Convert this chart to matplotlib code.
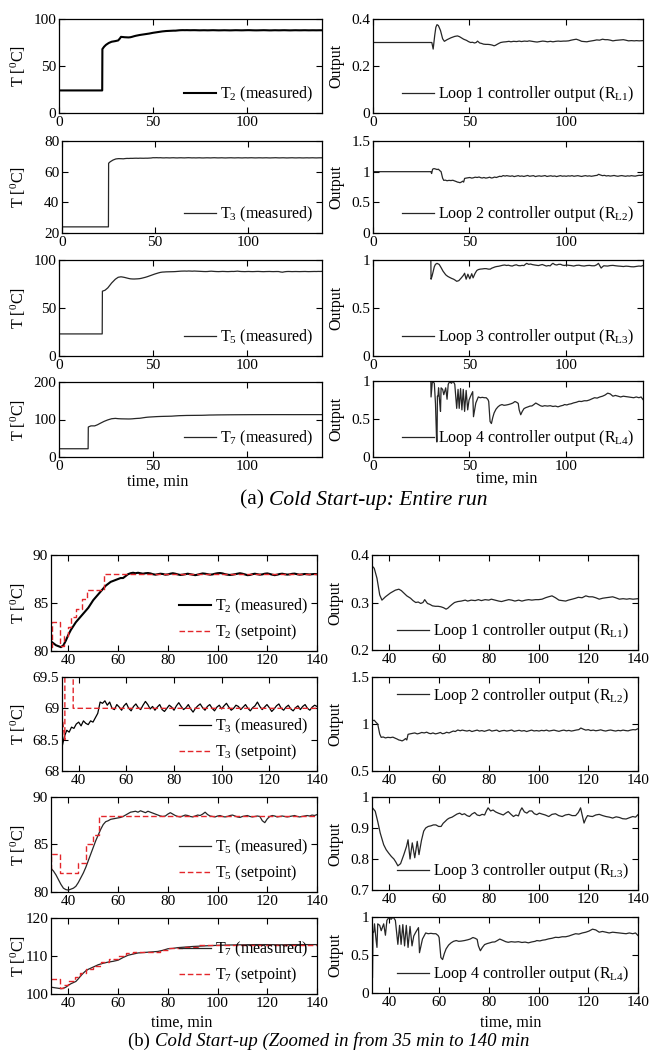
import numpy as np
import matplotlib
matplotlib.use('Agg')
import matplotlib.pyplot as plt
import matplotlib.transforms as mtransforms
from matplotlib.ticker import FormatStrFormatter

plt.rcParams['font.family'] = 'Liberation Serif'
plt.rcParams['mathtext.fontset'] = 'custom'
plt.rcParams['mathtext.rm'] = 'Liberation Serif'
plt.rcParams['mathtext.it'] = 'Liberation Serif:italic'
plt.rcParams['mathtext.bf'] = 'Liberation Serif:bold'

W, H = 649, 1056

# ---- measured temperatures (time in min) ----
t2_head_t = [0, 23.0, 23.1, 24, 25, 26.5, 28, 30, 31.5, 32.5, 33, 34, 35, 36, 37, 38, 39, 40, 41, 42,
             43, 44, 45, 46, 47, 48, 49, 50, 51, 52, 53, 54, 55, 56, 57, 58, 59, 60, 61, 62,
             63, 64, 65, 66]
t2_head_v = [24, 24, 68, 70.5, 72.5, 74.5, 75.8, 76.5, 77.2, 79.5, 81.0, 80.8, 80.6, 80.5, 80.4, 80.6, 81.1, 81.7, 82.2, 82.6,
             83.0, 83.3, 83.6, 83.9, 84.2, 84.5, 84.9, 85.3, 85.6, 85.9, 86.2, 86.5, 86.8, 87.0, 87.2, 87.3, 87.4, 87.5, 87.6, 87.6,
             87.8, 88.0, 88.1, 88.15]
t2_tail_v = [88.10, 88.15, 88.10, 88.05, 88.10, 88.12, 88.08, 88.00, 87.95, 88.00,
             88.05, 88.02, 87.95, 87.98, 88.05, 88.10, 88.05, 87.98, 87.92, 87.95,
             88.00, 88.05, 88.00, 87.95, 87.90, 87.95, 88.02, 88.08, 88.05, 88.00,
             87.95, 87.98, 88.05, 88.10, 88.12, 88.08, 88.00, 87.95, 87.92, 87.95,
             88.00, 88.05, 88.10, 88.05, 87.98, 87.90, 87.92, 88.00, 88.05, 88.00,
             87.95, 87.98, 88.05, 88.08, 88.02, 87.95, 87.90, 87.95, 88.02, 88.05,
             88.00, 87.96, 87.98, 88.04, 88.06, 88.00, 87.95, 87.98, 88.02, 88.00,
             87.97, 88.00, 88.02, 88.00]

t3_head_t = [0, 25.0, 25.1, 26, 27.5, 29, 30.5, 32, 33, 34, 35, 36, 37, 38, 39, 40, 41, 42, 43, 44,
             45, 46, 47, 48, 49]
t3_head_v = [24, 24, 65.5, 66.5, 67.6, 68.3, 68.5, 68.45, 68.38, 68.55, 68.65, 68.62, 68.70, 68.68, 68.75, 68.78, 68.72, 68.80, 68.76, 68.74,
             68.80, 68.78, 68.85, 68.92, 69.10]
t3_tail_v = [69.08, 69.12, 69.05, 69.10, 69.00, 68.98, 69.06, 69.02, 68.97, 69.04,
             69.08, 69.00, 68.96, 69.03, 69.07, 69.01, 68.98, 69.05, 69.11, 69.06,
             68.99, 69.03, 68.97, 69.02, 69.06, 68.98, 68.95, 69.00, 69.05, 69.02,
             68.97, 69.04, 69.09, 69.03, 68.98, 69.01, 69.06, 68.99, 68.94, 69.00,
             69.04, 69.07, 69.01, 68.97, 69.03, 69.06, 69.00, 68.96, 69.02, 69.05,
             68.99, 69.04, 69.08, 69.02, 68.97, 69.00, 69.05, 69.03, 68.98, 69.02,
             69.06, 69.00, 68.96, 69.01, 69.04, 69.10, 69.03, 68.98, 69.02, 69.06,
             69.01, 68.95, 68.99, 69.04, 69.07, 69.00, 68.97, 69.02, 69.05, 68.99,
             68.96, 69.01, 69.04, 68.98, 69.03, 69.06, 69.00, 68.97, 69.02, 69.05,
             69.03]

t5_head_t = [0, 23.0, 23.1, 24.5, 26, 28, 30, 31.5, 33, 34, 35, 36, 37, 38, 39, 40, 41, 42, 43, 44,
             45, 46, 47, 48, 49, 50, 51, 52, 53, 54, 55, 56, 57, 58, 59, 60, 61, 62, 63, 64, 65]
t5_head_v = [23, 23, 67.5, 68.5, 71, 76, 80, 82, 82.5, 82.2, 81.8, 81.3, 80.8, 80.4, 80.25, 80.2, 80.3, 80.4, 80.6, 81.0,
             81.5, 82.0, 82.6, 83.3, 84.0, 84.7, 85.4, 86.0, 86.6, 87.1, 87.4, 87.5, 87.65, 87.7, 87.75, 87.8, 87.85, 87.95, 88.1, 88.25, 88.4]
t5_tail_v = [88.45, 88.50, 88.40, 88.55, 88.45, 88.35, 88.50, 88.40, 88.30, 88.20,
             88.10, 88.00, 87.95, 88.00, 88.20, 88.35, 88.20, 88.05, 87.95, 87.90,
             88.00, 88.10, 88.05, 87.95, 87.90, 88.00, 88.10, 88.05, 88.20, 88.40,
             88.15, 88.00, 87.95, 87.90, 88.00, 88.05, 87.95, 87.90, 87.95, 88.05,
             88.10, 88.00, 87.90, 87.85, 87.95, 88.00, 88.05, 87.95, 87.90, 87.95,
             88.00, 87.95, 87.50, 87.30, 87.70, 87.95, 88.05, 88.00, 87.90, 87.95,
             88.00, 87.95, 87.90, 87.95, 88.00, 88.05, 87.95, 87.90, 87.95, 88.00,
             88.05, 88.00, 88.10, 88.05, 88.15]

t7_t = [0, 15.5, 15.6, 17, 19, 20.5, 22, 24, 26, 28, 30, 31.5, 33, 34, 35, 36, 37, 38, 39, 40,
        41, 42, 43, 44, 45, 46, 47, 48, 49, 50, 52, 54, 56, 58, 60, 62, 64, 66, 68, 70,
        72, 74, 76, 78, 80, 82, 84, 86, 88, 90, 93, 96, 100, 105, 110, 115, 120, 125, 130, 135, 140]
t7_v = [22, 22, 80, 83, 83, 86, 90, 95, 99, 102, 103, 102.2, 101.8, 101.7, 101.6, 101.5, 101.4, 101.5, 101.8, 102.3,
        102.7, 103.0, 103.3, 104.0, 104.8, 105.5, 106.1, 106.5, 106.8, 107.1, 107.7, 108.1, 108.4, 108.6, 108.9, 109.6, 110.2, 110.5, 110.8, 110.9,
        111.0, 111.1, 111.2, 111.5, 111.9, 112.0, 112.2, 112.3, 112.4, 112.5, 112.6, 112.7, 112.8, 112.9, 112.95, 113.0, 113.0, 112.95, 113.0, 113.0, 113.0]

# ---- setpoints (step changes) ----
sp2_t = [33, 33.5, 36.8, 38.2, 39.8, 41.2, 43.2, 45.3, 47.5, 54.3, 140]
sp2_v = [80.4, 83.0, 80.5, 81.6, 82.5, 83.5, 84.4, 85.4, 86.4, 88.0, 88.0]
sp3_t = [32.5, 34.2, 34.2, 37.7, 37.7, 140]
sp3_v = [69.05, 68.5, 70.5, 70.5, 69.0, 69.0]
sp5_t = [33, 33.2, 36.5, 44, 47, 50, 52.5, 140]
sp5_v = [82.3, 84, 82, 83, 85, 86, 88, 88]
sp7_t = [33, 36.5, 38, 40, 42.5, 44.5, 47, 50, 53, 56.5, 60, 63, 66, 77, 80, 86, 92, 140]
sp7_v = [104, 101.5, 102.5, 103.5, 104.5, 105.5, 106.5, 107.5, 108.5, 109.3, 110.1, 110.7, 111, 111.5, 112, 112.5, 113, 113]

# ---- controller outputs ----
rl1_t = [0, 30.5, 31.2, 32.0, 32.6, 33.2, 33.9, 35.0, 36.1, 37.0, 38.4, 39.4, 40.4, 41.4, 42.4, 43.8, 44.8, 45.8, 47.0, 48.5,
         49.5, 50.6, 51.6, 52.6, 53.5, 54.2, 55.3, 56.3, 57.3, 58.5, 59.6, 60.7, 61.8, 62.8, 63.5, 64.1, 65.2, 66.2, 67.5, 68.9,
         70.5, 71.5, 72.9, 74.5, 75.8, 77.0, 78.5, 80.0, 81.0, 82.5, 84.0, 85.1, 86.5, 88.0, 89.2, 90.5, 92.0, 93.3, 94.8, 96.0,
         97.3, 98.8, 100.0, 101.4, 102.8, 104.0, 105.4, 106.8, 108.2, 109.5, 110.9, 112.0, 113.5, 114.9, 116.0, 117.5, 119.0, 120.3, 121.7, 123.0,
         124.4, 125.8, 127.1, 128.5, 129.8, 131.0, 132.5, 134.0, 135.5, 136.6, 138.0, 140.0]
rl1_v = [0.300, 0.300, 0.272, 0.330, 0.365, 0.376, 0.372, 0.351, 0.316, 0.305, 0.312, 0.316, 0.320, 0.323, 0.326, 0.328, 0.325, 0.320, 0.314, 0.309,
         0.304, 0.300, 0.301, 0.298, 0.300, 0.306, 0.298, 0.296, 0.293, 0.292, 0.292, 0.291, 0.289, 0.286, 0.288, 0.291, 0.296, 0.300, 0.302, 0.303,
         0.305, 0.303, 0.305, 0.304, 0.306, 0.304, 0.306, 0.305, 0.307, 0.305, 0.303, 0.302, 0.304, 0.306, 0.305, 0.303, 0.305, 0.303, 0.305, 0.306,
         0.305, 0.306, 0.306, 0.307, 0.310, 0.312, 0.314, 0.310, 0.305, 0.304, 0.303, 0.305, 0.307, 0.309, 0.311, 0.310, 0.314, 0.312, 0.312, 0.310,
         0.307, 0.309, 0.310, 0.311, 0.312, 0.310, 0.307, 0.308, 0.307, 0.308, 0.307, 0.308]

rl2_t = [0, 30.0, 30.4, 30.9, 31.6, 32.3, 33.2, 33.9, 34.6, 35.3, 36.1, 36.7, 37.5, 38.4, 39.4, 40.4, 41.4, 42.4, 43.1, 43.8,
         44.5, 45.1, 45.8, 46.5, 47.0, 47.5, 48.3, 49.2, 50.2, 51.2, 52.0, 53.0, 54.0, 55.0, 56.0, 56.7, 57.5, 58.5, 59.4, 60.5,
         61.3, 62.1, 63.0, 64.0, 64.8, 65.7, 66.5, 67.5, 68.5, 69.3, 70.2, 71.2, 72.2, 73.2, 74.3, 75.3, 76.2, 77.2, 78.2, 79.2,
         80.2, 81.2, 82.2, 83.2, 84.2, 85.2, 86.2, 87.2, 88.2, 89.2, 90.2, 91.2, 92.2, 93.2, 94.2, 95.2, 96.2, 97.2, 98.2, 99.2,
         100.2, 101.2, 102.2, 103.2, 104.2, 105.2, 106.2, 107.2, 108.2, 109.2, 110.2, 111.2, 112.2, 113.2, 114.2, 115.2, 116.2, 117.0, 118.0, 119.0,
         120.0, 121.0, 122.0, 123.0, 124.0, 125.0, 126.0, 127.0, 128.0, 129.0, 130.0, 131.0, 132.0, 133.0, 134.0, 135.0, 136.0, 137.0, 138.0, 139.0,
         140.0]
rl2_v = [1.0, 1.0, 0.97, 1.04, 1.05, 1.045, 1.035, 1.04, 1.018, 1.0, 0.894, 0.858, 0.862, 0.852, 0.858, 0.855, 0.860, 0.848, 0.840, 0.830,
         0.826, 0.820, 0.830, 0.845, 0.830, 0.890, 0.895, 0.900, 0.905, 0.895, 0.900, 0.910, 0.905, 0.913, 0.900, 0.897, 0.905, 0.895, 0.900, 0.910,
         0.897, 0.900, 0.912, 0.905, 0.915, 0.925, 0.920, 0.936, 0.928, 0.935, 0.930, 0.925, 0.932, 0.920, 0.928, 0.935, 0.925, 0.930, 0.922, 0.930,
         0.938, 0.925, 0.930, 0.935, 0.920, 0.928, 0.932, 0.925, 0.930, 0.936, 0.922, 0.928, 0.933, 0.925, 0.930, 0.920, 0.928, 0.935, 0.926, 0.930,
         0.925, 0.932, 0.928, 0.935, 0.925, 0.930, 0.935, 0.928, 0.922, 0.930, 0.935, 0.927, 0.932, 0.925, 0.930, 0.936, 0.940, 0.957, 0.945, 0.935,
         0.940, 0.930, 0.935, 0.928, 0.932, 0.938, 0.930, 0.925, 0.932, 0.936, 0.930, 0.925, 0.932, 0.928, 0.935, 0.930, 0.927, 0.935, 0.940, 0.938,
         0.950]

rl3_t = [0, 30.0, 30.1, 30.6, 31.2, 31.8, 32.4, 33.2, 34.3, 35.3, 36.3, 37.7, 38.7, 39.7, 40.8, 41.8, 42.6, 43.4, 44.5, 45.8,
         46.9, 47.5, 48.3, 49.2, 50.2, 51.2, 51.9, 52.9, 53.8, 54.6, 55.6, 56.7, 57.7, 58.7, 59.8, 60.8, 61.6, 62.4, 63.3, 64.1,
         65.2, 66.2, 67.2, 68.3, 69.2, 70.2, 71.2, 72.2, 73.2, 74.3, 75.3, 76.3, 77.3, 78.3, 79.0, 79.7, 80.7, 81.7, 82.7, 83.8,
         84.8, 85.8, 86.8, 87.8, 88.8, 89.9, 90.9, 91.9, 92.6, 93.3, 94.3, 95.3, 96.3, 97.3, 98.3, 99.3, 100.3, 101.4, 102.7, 104.1,
         105.4, 106.8, 108.1, 109.5, 110.8, 112.2, 113.5, 114.9, 116.0, 116.9, 117.6, 118.3, 119.0, 119.7, 120.7, 121.7, 123.0, 124.4, 125.8, 127.1,
         128.5, 129.8, 131.2, 132.5, 133.8, 135.2, 136.5, 137.9, 139.0, 140.0]
rl3_v = [1.0, 1.0, 0.80, 0.83, 0.88, 0.93, 0.955, 0.965, 0.954, 0.921, 0.884, 0.846, 0.830, 0.819, 0.808, 0.800, 0.790, 0.778, 0.785, 0.814,
         0.841, 0.862, 0.800, 0.852, 0.804, 0.857, 0.814, 0.860, 0.890, 0.900, 0.905, 0.907, 0.910, 0.910, 0.905, 0.905, 0.915, 0.921, 0.928, 0.932,
         0.935, 0.940, 0.945, 0.948, 0.943, 0.946, 0.940, 0.937, 0.945, 0.950, 0.942, 0.940, 0.944, 0.942, 0.955, 0.965, 0.955, 0.958, 0.952, 0.948,
         0.945, 0.942, 0.948, 0.953, 0.945, 0.937, 0.942, 0.939, 0.955, 0.965, 0.952, 0.948, 0.955, 0.955, 0.946, 0.943, 0.948, 0.945, 0.942, 0.937,
         0.944, 0.946, 0.940, 0.937, 0.942, 0.944, 0.940, 0.940, 0.950, 0.965, 0.940, 0.916, 0.930, 0.940, 0.938, 0.937, 0.942, 0.944, 0.940, 0.937,
         0.935, 0.932, 0.936, 0.934, 0.930, 0.929, 0.933, 0.937, 0.935, 0.943]

rl4_t = [0, 30.0, 30.1, 30.8, 31.8, 32.4, 33.0, 33.2, 33.4, 33.7, 34.0, 34.6, 35.0, 35.3, 36.1, 36.7, 37.7, 38.4, 39.0, 39.7,
         40.7, 41.5, 42.4, 43.4, 44.1, 44.7, 45.4, 46.1, 46.8, 47.5, 48.3, 49.1, 49.8, 50.6, 51.7, 52.1, 53.3, 54.6, 55.6, 56.7,
         57.7, 58.7, 59.6, 60.0, 60.7, 61.4, 62.1, 62.8, 63.8, 64.8, 65.8, 66.9, 67.9, 68.9, 70.2, 71.5, 72.5, 73.6, 74.5, 75.3,
         75.8, 76.6, 77.4, 78.3, 79.3, 80.4, 81.4, 82.4, 83.4, 84.4, 85.1, 85.8, 86.8, 87.8, 89.0, 90.5, 91.9, 93.3, 94.6, 95.9,
         97.3, 98.6, 99.3, 100.5, 101.6, 102.7, 104.0, 105.4, 106.8, 108.1, 109.5, 110.9, 112.2, 113.5, 114.9, 116.2, 117.6, 119.0, 120.3, 121.7,
         123.0, 124.4, 125.7, 127.1, 128.4, 129.8, 131.1, 132.5, 133.8, 135.2, 136.5, 137.9, 139.0, 140.0]
rl4_v = [1.0, 1.0, 0.79, 1.0, 0.97, 0.70, 0.20, 0.20, 0.80, 0.80, 0.91, 0.71, 0.60, 0.91, 0.89, 0.82, 0.91, 0.76, 0.956, 0.99,
         0.97, 1.0, 0.956, 0.64, 0.89, 0.64, 0.90, 0.62, 0.89, 0.60, 0.876, 0.62, 0.75, 0.80, 0.86, 0.53, 0.71, 0.79, 0.78, 0.785,
         0.78, 0.78, 0.756, 0.73, 0.467, 0.44, 0.52, 0.58, 0.63, 0.66, 0.68, 0.69, 0.68, 0.683, 0.69, 0.70, 0.71, 0.73, 0.72, 0.705,
         0.62, 0.556, 0.60, 0.637, 0.65, 0.66, 0.67, 0.672, 0.69, 0.71, 0.70, 0.69, 0.675, 0.667, 0.675, 0.67, 0.675, 0.665, 0.67, 0.66,
         0.672, 0.68, 0.69, 0.685, 0.695, 0.70, 0.712, 0.72, 0.733, 0.73, 0.74, 0.74, 0.75, 0.765, 0.78, 0.775, 0.79, 0.80, 0.815, 0.84,
         0.83, 0.80, 0.81, 0.80, 0.79, 0.80, 0.795, 0.79, 0.785, 0.78, 0.79, 0.78, 0.79, 0.756]

# minute-by-minute samples after the heads
t2_t = t2_head_t + list(67 + np.arange(len(t2_tail_v)))
t2_v = t2_head_v + t2_tail_v
t3_t = t3_head_t + list(50 + np.arange(len(t3_tail_v)))
t3_v = t3_head_v + t3_tail_v
t5_t = t5_head_t + list(66 + np.arange(len(t5_tail_v)))
t5_v = t5_head_v + t5_tail_v

DARK = '#262626'
RED = '#e3262b'
SP_DASH = (0, (4.0, 2.0))
LEG_FS = 11.5

fig = plt.figure(figsize=(W / 100, H / 100), dpi=100)


def box(x0, x1, y0, y1):
    return [x0 / W, 1 - y1 / H, (x1 - x0) / W, (y1 - y0) / H]


def style(ax, xlim, xticks, ylim, yticks, ylab, ylab_x):
    ax.set_xlim(*xlim)
    ax.set_ylim(*ylim)
    ax.set_xticks(xticks)
    ax.set_yticks(yticks)
    ax.yaxis.set_major_formatter(FormatStrFormatter('%g'))
    ax.tick_params(direction='in', top=True, right=True, length=4, width=0.8,
                   labelsize=11, colors='black')
    ax.tick_params(axis='y', pad=2)
    ax.tick_params(axis='x', pad=2.5)
    for s in ax.spines.values():
        s.set_linewidth(0.9)
    ax.set_ylabel(ylab, fontsize=11.5)
    tr = mtransforms.blended_transform_factory(fig.transFigure, ax.transAxes)
    ax.yaxis.set_label_coords(ylab_x / W, 0.5, transform=tr)


def xlabel(ax, x_px, y_px):
    ax.set_xlabel('time, min', fontsize=11.5)
    ax.xaxis.set_label_coords(x_px / W, 1 - y_px / H, transform=fig.transFigure)
    ax.xaxis.label.set_va('top')


def legend(ax, loc='lower right'):
    ax.legend(loc=loc, frameon=False, fontsize=LEG_FS, handlelength=2.0,
              handletextpad=0.25, borderaxespad=0.15, labelspacing=0.38)


TLAB = 'T [$^0$C]'
XA = (0, 140)
XA_T = [0, 50, 100]
XB = (33, 140)
XB_T = [40, 60, 80, 100, 120, 140]

# ---------------- (a) entire run ----------------
ax = fig.add_axes(box(59, 322, 19, 113))
ax.plot(t2_t, t2_v, color='black', lw=1.5, label='T$_2$ (measured)')
style(ax, XA, XA_T, (0, 100), [0, 50, 100], TLAB, 28)
legend(ax)

ax = fig.add_axes(box(62, 322, 141, 233))
ax.plot(t3_t, t3_v, color=DARK, lw=0.9, label='T$_3$ (measured)')
style(ax, XA, XA_T, (20, 80), [20, 40, 60, 80], TLAB, 28)
legend(ax)

ax = fig.add_axes(box(59, 322, 260, 356))
ax.plot(t5_t, t5_v, color=DARK, lw=0.9, label='T$_5$ (measured)')
style(ax, XA, XA_T, (0, 100), [0, 50, 100], TLAB, 28)
legend(ax)

ax = fig.add_axes(box(59, 322, 382, 457))
ax.plot(t7_t, t7_v, color=DARK, lw=0.9, label='T$_7$ (measured)')
style(ax, XA, XA_T, (0, 200), [0, 100, 200], TLAB, 28)
legend(ax)
xlabel(ax, 158, 474)

ax = fig.add_axes(box(373, 643, 19, 113))
ax.plot(rl1_t, rl1_v, color=DARK, lw=0.9, label='Loop 1 controller output (R$_{\\rm L1}$)')
style(ax, XA, XA_T, (0, 0.4), [0, 0.2, 0.4], 'Output', 344)
legend(ax)

ax = fig.add_axes(box(373, 643, 141, 233))
ax.plot(rl2_t, rl2_v, color=DARK, lw=0.9, label='Loop 2 controller output (R$_{\\rm L2}$)')
style(ax, XA, XA_T, (0, 1.5), [0, 0.5, 1, 1.5], 'Output', 344)
legend(ax)

ax = fig.add_axes(box(373, 643, 260, 356))
ax.plot(rl3_t, rl3_v, color=DARK, lw=0.9, label='Loop 3 controller output (R$_{\\rm L3}$)')
style(ax, XA, XA_T, (0, 1), [0, 0.5, 1], 'Output', 344)
legend(ax)

ax = fig.add_axes(box(373, 643, 381, 457))
ax.plot(rl4_t, rl4_v, color=DARK, lw=0.9, label='Loop 4 controller output (R$_{\\rm L4}$)')
style(ax, XA, XA_T, (0, 1), [0, 0.5, 1], 'Output', 344)
legend(ax)
xlabel(ax, 507, 471)

# ---------------- (b) zoomed 35-140 min ----------------
ax = fig.add_axes(box(51, 317, 555, 651))
ax.plot(t2_t, t2_v, color='black', lw=1.5, label='T$_2$ (measured)')
ax.plot(sp2_t, sp2_v, color=RED, lw=1.0, ls=SP_DASH, drawstyle='steps-post', label='T$_2$ (setpoint)')
style(ax, XB, XB_T, (80, 90), [80, 85, 90], TLAB, 28)
legend(ax)

ax = fig.add_axes(box(62, 317, 677, 771))
ax.plot(t3_t, t3_v, color='black', lw=0.9, label='T$_3$ (measured)')
ax.plot(sp3_t, sp3_v, color=RED, lw=1.0, ls=SP_DASH, label='T$_3$ (setpoint)')
style(ax, XB, XB_T, (68, 69.5), [68, 68.5, 69, 69.5], TLAB, 28)
legend(ax)

ax = fig.add_axes(box(51, 317, 797, 892))
ax.plot(t5_t, t5_v, color=DARK, lw=0.9, label='T$_5$ (measured)')
ax.plot(sp5_t, sp5_v, color=RED, lw=1.0, ls=SP_DASH, drawstyle='steps-post', label='T$_5$ (setpoint)')
style(ax, XB, XB_T, (80, 90), [80, 85, 90], TLAB, 28)
legend(ax)

ax = fig.add_axes(box(51, 317, 918, 994))
ax.plot(t7_t, t7_v, color=DARK, lw=0.9, label='T$_7$ (measured)')
ax.plot(sp7_t, sp7_v, color=RED, lw=1.0, ls=SP_DASH, drawstyle='steps-post', label='T$_7$ (setpoint)')
style(ax, XB, XB_T, (100, 120), [100, 110, 120], TLAB, 28)
legend(ax)
xlabel(ax, 182, 1015)

ax = fig.add_axes(box(372, 638, 555, 650))
ax.plot(rl1_t, rl1_v, color=DARK, lw=0.9, label='Loop 1 controller output (R$_{\\rm L1}$)')
style(ax, XB, XB_T, (0.2, 0.4), [0.2, 0.3, 0.4], 'Output', 343)
legend(ax)

ax = fig.add_axes(box(372, 638, 677, 771))
ax.plot(rl2_t, rl2_v, color=DARK, lw=0.9, label='Loop 2 controller output (R$_{\\rm L2}$)')
style(ax, XB, XB_T, (0.5, 1.5), [0.5, 1, 1.5], 'Output', 343)
legend(ax, 'upper right')

ax = fig.add_axes(box(372, 638, 797, 890))
ax.plot(rl3_t, rl3_v, color=DARK, lw=0.9, label='Loop 3 controller output (R$_{\\rm L3}$)')
style(ax, XB, XB_T, (0.7, 1.0), [0.7, 0.8, 0.9, 1], 'Output', 343)
legend(ax)

ax = fig.add_axes(box(372, 638, 917, 993))
ax.plot(rl4_t, rl4_v, color=DARK, lw=0.9, label='Loop 4 controller output (R$_{\\rm L4}$)')
style(ax, XB, XB_T, (0, 1), [0, 0.5, 1], 'Output', 343)
legend(ax)
xlabel(ax, 511, 1015)

# ---------------- captions ----------------


def caption(x_px, y_px, tag, title, size):
    t1 = fig.text(x_px / W, 1 - y_px / H, tag, fontsize=size, ha='left', va='center')
    ax.annotate(title, xy=(1, 0), xycoords=t1, ha='left', va='bottom',
                fontsize=size, style='italic', annotation_clip=False)


caption(240, 500, '(a) ', 'Cold Start-up: Entire run', 15.5)
caption(128, 1041, '(b) ', 'Cold Start-up (Zoomed in from 35 min to 140 min', 13.5)

fig.savefig('out.png', dpi=100)
